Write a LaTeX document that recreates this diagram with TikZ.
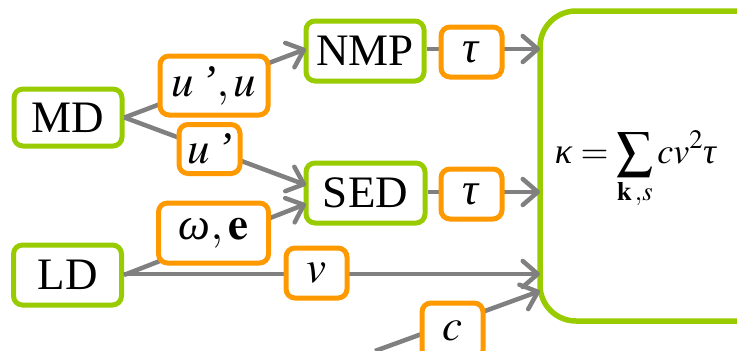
\documentclass[tikz,border=0pt]{standalone}
\usepackage{mathptmx}
\usepackage{fontspec}
\setmainfont{Liberation Serif}
\usetikzlibrary{arrows.meta}
\definecolor{boxgreen}{RGB}{153,204,0}
\definecolor{boxorange}{RGB}{255,153,0}
\definecolor{linegray}{RGB}{128,128,128}
\newcommand{\gk}[1]{\mathord{\hbox{\textit{#1}}}}
\begin{document}
\begin{tikzpicture}[x=1pt,y=-1pt,
  greenbox/.style={draw=boxgreen,line width=5pt,rounded corners=9pt,fill=white,inner sep=0pt,
    font=\fontsize{45}{50}\selectfont},
  orangebox/.style={draw=boxorange,line width=5pt,rounded corners=9pt,fill=white,inner sep=0pt,
    font=\fontsize{45}{50}\selectfont},
  conn/.style={draw=linegray,line width=4.5pt},
  arr/.style={conn,-{Straight Barb[length=15pt,width=26pt,line width=4.5pt,round]}}]
\useasboundingbox (0,0) rectangle (737,351);
\clip (0,0) rectangle (737,351);
% main nodes
\node[greenbox,minimum width=108pt,minimum height=57pt] (MD) at (68,117.5) {MD};
\node[greenbox,minimum width=108pt,minimum height=60pt] (LD) at (67.5,275) {LD};
\node[greenbox,minimum width=118pt,minimum height=60pt] (NMP) at (365,51) {NMP};
\node[greenbox,minimum width=119pt,minimum height=60pt] (SED) at (365.5,193) {SED};
\node[draw=boxgreen,line width=5.5pt,rounded corners=36pt,minimum width=240pt,minimum height=310pt,inner sep=0pt] (big) at (660,166) {};
\node[font=\fontsize{36}{42}\selectfont] (formula) at (636,170) {$\displaystyle \gk{κ}=\sum_{\mathbf{k}\,,s} c v^{2}\gk{τ}$};
% free coordinates
\coordinate (cstart) at (375,351);
\coordinate (sedin1) at (306,185);
\coordinate (sedin2) at (306,204);
\coordinate (bigin1) at (540,49);
\coordinate (bigin2) at (540,192);
\coordinate (bigin3) at (540,274);
\coordinate (bigin4) at (540,291);
\coordinate (nmpin) at (306,49);
% connectors
\draw[arr] (MD.east) -- (nmpin);
\draw[arr] (MD.east) -- (sedin1);
\draw[arr] (LD.east) -- (sedin2);
\draw[arr] (LD.east |- bigin3) -- (bigin3);
\draw[arr] (NMP.east |- bigin1) -- (bigin1);
\draw[arr] (SED.east |- bigin2) -- (bigin2);
\draw[arr] (cstart) -- (bigin4);
% labels
\node[orangebox,minimum width=108pt,minimum height=59pt] (uu) at (214,85.5) {$u$\,\textit{’}$,u$};
\node[orangebox,minimum width=61pt,minimum height=49pt] (up) at (209.5,149) {$u$\,\textit{’}};
\node[orangebox,minimum width=110pt,minimum height=60pt] (we) at (213.5,233) {$\gk{ω},\mathbf{e}$};
\node[orangebox,minimum width=61pt,minimum height=50pt] (v) at (316.5,273) {$v$};
\node[orangebox,minimum width=61pt,minimum height=50pt] (tau1) at (471.5,52) {$\gk{τ}$};
\node[orangebox,minimum width=61pt,minimum height=50pt] (tau2) at (471.5,194) {$\gk{τ}$};
\node[orangebox,minimum width=61pt,minimum height=56pt] (c) at (452.5,331) {$c$};
\end{tikzpicture}
\end{document}
